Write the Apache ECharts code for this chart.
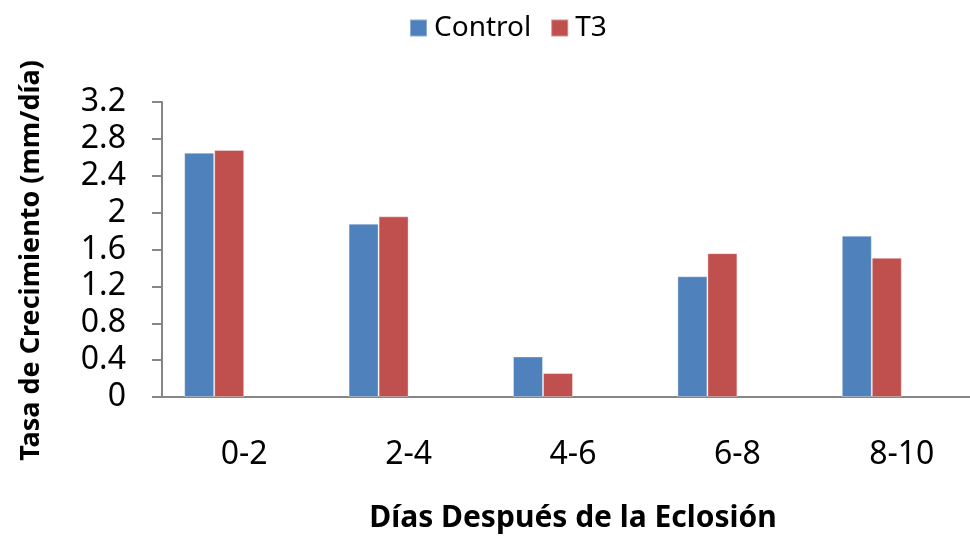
<!DOCTYPE html>
<html><head><meta charset="utf-8">
<script src="https://cdn.jsdelivr.net/npm/echarts@6/dist/echarts.min.js"></script>
<style>html,body{margin:0;padding:0;background:#fff}#c{width:970px;height:537px}</style>
</head><body><div id="c"></div>
<script>
var categories = ['0-2', '2-4', '4-6', '6-8', '8-10'];
var controlValues = [2.65, 1.88, 0.44, 1.31, 1.75];
var t3Values = [2.68, 1.96, 0.26, 1.56, 1.51];
var emptyValues = [null, null, null, null, null];
var yTicks = [0, 0.4, 0.8, 1.2, 1.6, 2, 2.4, 2.8, 3.2];

var FONT = 'Noto Sans';
var axisGray = '#868686';
var chart = echarts.init(document.getElementById('c'));
chart.setOption({
  animation: false,
  textStyle: { fontFamily: FONT },
  legend: {
    data: ['Control', 'T3'],
    top: 14, left: 409, padding: 0,
    itemWidth: 17, itemHeight: 17, itemGap: 19,
    icon: 'rect',
    textStyle: { fontSize: 28, color: '#000', fontFamily: FONT, padding: [0, 0, 0, 2] }
  },
  grid: { left: 162, top: 102, width: 822, bottom: 140, outerBoundsMode: 'none', containLabel: false },
  xAxis: {
    type: 'category',
    data: categories,
    axisLine: { lineStyle: { color: axisGray, width: 2 } },
    axisTick: { length: 10, lineStyle: { color: axisGray, width: 2 } },
    axisLabel: { fontSize: 32, color: '#000', margin: 42, fontFamily: FONT },
    name: 'Días Después de la Eclosión',
    nameLocation: 'middle',
    nameGap: 106,
    nameTextStyle: { fontSize: 30, fontWeight: 'bold', color: '#000', fontFamily: FONT }
  },
  yAxis: {
    type: 'value',
    min: 0, max: 3.2, interval: 0.4,
    axisLine: { show: true, lineStyle: { color: axisGray, width: 2 } },
    axisTick: { show: true, length: 10, lineStyle: { color: axisGray, width: 2 } },
    splitLine: { show: false },
    axisLabel: {
      fontSize: 32, color: '#000', margin: 36, fontFamily: FONT,
      formatter: function (v) { return String(parseFloat(v.toFixed(1))); }
    },
    name: 'Tasa de Crecimiento (mm/día)',
    nameLocation: 'middle',
    nameGap: 117,
    nameTextStyle: { fontSize: 27, fontWeight: 'bold', color: '#000', fontFamily: FONT, padding: [0, 22, 0, 0] }
  },
  series: [
    { name: 'Control', type: 'bar', data: controlValues, barWidth: 30, barGap: '0%',
      itemStyle: { color: '#4F81BD', borderColor: 'rgba(255,255,255,0.35)', borderWidth: 1 } },
    { name: 'T3', type: 'bar', data: t3Values, barWidth: 30, barGap: '0%',
      itemStyle: { color: '#C0504D', borderColor: 'rgba(255,255,255,0.35)', borderWidth: 1 } },
    { name: 'E1', type: 'bar', data: emptyValues, barWidth: 30, barGap: '0%' },
    { name: 'E2', type: 'bar', data: emptyValues, barWidth: 30, barGap: '0%' }
  ]
});
</script></body></html>
